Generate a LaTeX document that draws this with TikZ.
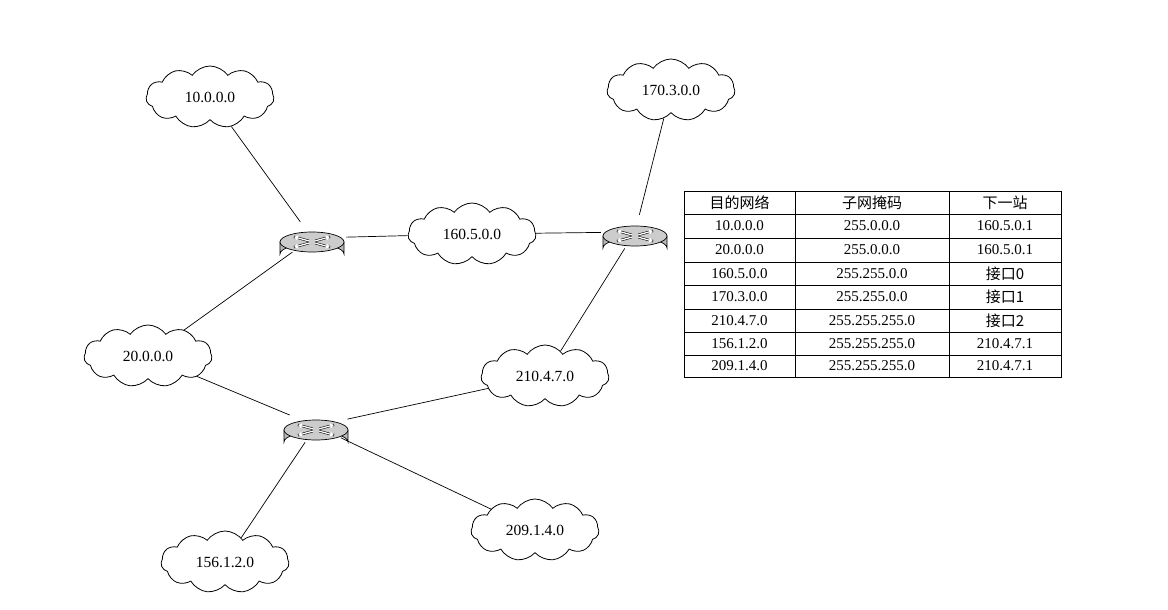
\documentclass[tikz,border=0pt]{standalone}
\usepackage{fontspec}
\setmainfont{Liberation Serif}
\newfontfamily\cjk{Noto Sans CJK SC}
\usetikzlibrary{shapes.symbols,shapes.geometric,arrows.meta}
\begin{document}
\begin{tikzpicture}[x=1pt,y=-1pt,
  net/.style={cloud,cloud puffs=11,cloud puff arc=110,aspect=2.2,draw,line width=0.8pt,minimum width=128pt,minimum height=62pt,font=\fontsize{15.5}{17}\selectfont,inner sep=0pt},
  rt/.style={ellipse,minimum width=68pt,minimum height=34pt,inner sep=0pt},
  ln/.style={line width=0.7pt},
  cell/.style={font=\fontsize{15}{17}\selectfont}]
\useasboundingbox (0,0) rectangle (1168,610);
\newcommand{\router}[2]{%
  \node[rt] (#1) at (#2) {};
  \fill[gray!55,draw=black,line width=0.7pt] ([xshift=-32pt,yshift=-4pt]#1.center) -- ++(0,12) arc[start angle=180,end angle=360,x radius=32pt,y radius=-10pt] -- ++(0,-12) -- cycle;
  \fill[gray!40,draw=black,line width=0.7pt] ([yshift=-4pt]#1.center) ellipse[x radius=32pt,y radius=10pt];
  \begin{scope}[shift={([yshift=-4pt]#1.center)}]
   \foreach \a in {35,145,215,325}{
     \draw[line width=2.4pt,black] ({4*cos(\a)},{2*sin(\a)}) -- ({22*cos(\a)},{9*sin(\a)});
     \draw[line width=1.3pt,white,-{Triangle[length=4pt,width=5pt]}] ({4*cos(\a)},{2*sin(\a)}) -- ({22*cos(\a)},{9*sin(\a)});
   }
  \end{scope}}
\node[net] (n10) at (210,97) {10.0.0.0};
\node[net] (n170) at (671,90) {170.3.0.0};
\node[net] (n160) at (472,234) {160.5.0.0};
\node[net] (n20) at (148,356) {20.0.0.0};
\node[net] (n210) at (545,376) {210.4.7.0};
\node[net] (n209) at (535,530) {209.1.4.0};
\node[net] (n156) at (225,562) {156.1.2.0};
\router{r1}{312,238}
\router{r2}{635,232}
\router{r3}{316,426}
\draw[ln] (n10) -- (r1);
\draw[ln] (r1) -- (n20);
\draw[ln] (r1) -- (n160);
\draw[ln] (n160) -- (r2);
\draw[ln] (r2) -- (n170);
\draw[ln] (r2) -- (n210);
\draw[ln] (n20) -- (r3);
\draw[ln] (r3) -- (n210);
\draw[ln] (r3) -- (n156);
\draw[ln] (r3) -- (n209);
% table
\draw[line width=0.7pt] (684,191) rectangle (1061,377);
\foreach \y in {214,238,262,285,309,332,355}{\draw[line width=0.7pt] (684,\y) -- (1061,\y);}
\draw[line width=0.7pt] (795,191) -- (795,377);
\draw[line width=0.7pt] (949,191) -- (949,377);
\node[cell] (h1) at (739.5,202.5) {\cjk 目的网络};
\node[cell] (h2) at (872,202.5) {\cjk 子网掩码};
\node[cell] (h3) at (1005,202.5) {\cjk 下一站};
\foreach \y/\a/\b/\c [count=\i] in {
 226/10.0.0.0/255.0.0.0/160.5.0.1,
 250/20.0.0.0/255.0.0.0/160.5.0.1,
 273.5/160.5.0.0/255.255.0.0/{\cjk 接口0},
 297/170.3.0.0/255.255.0.0/{\cjk 接口1},
 320.5/210.4.7.0/255.255.255.0/{\cjk 接口2},
 343.5/156.1.2.0/255.255.255.0/210.4.7.1,
 366/209.1.4.0/255.255.255.0/210.4.7.1}{
 \node[cell] (a\i) at (739.5,\y) {\a};
 \node[cell] (b\i) at (872,\y) {\b};
 \node[cell] (c\i) at (1005,\y) {\c};
}
\end{tikzpicture}
\end{document}
